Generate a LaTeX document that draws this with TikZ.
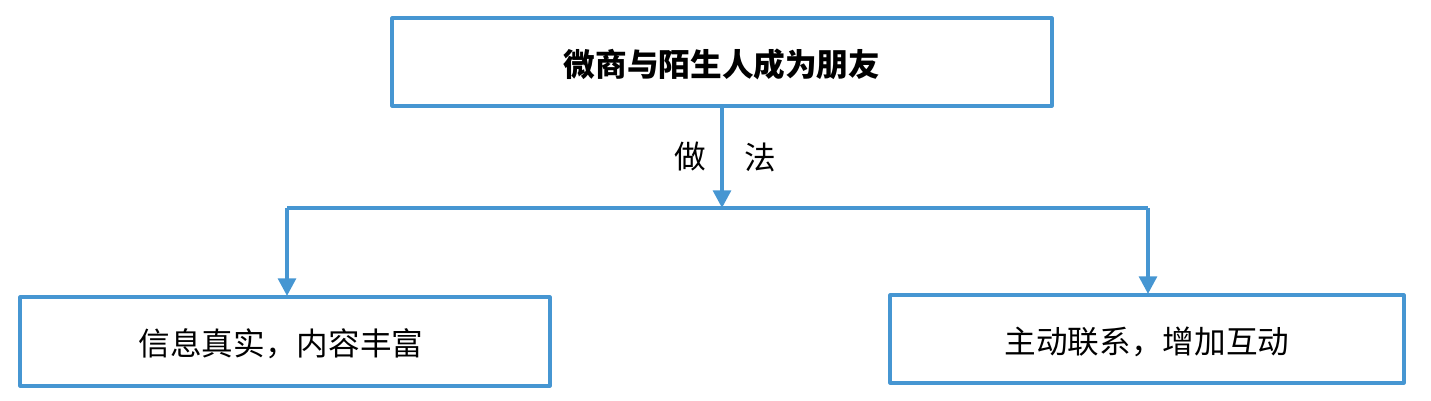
\documentclass[tikz,border=0pt]{standalone}
\usepackage{fontspec}
\newfontfamily\cjk{Noto Sans CJK SC}
\usetikzlibrary{arrows.meta}
\definecolor{lineblue}{RGB}{70,150,210}
\begin{document}
\begin{tikzpicture}[x=0.02cm,y=-0.02cm,join=round,
  box/.style={draw=lineblue,line width=1.8pt},
  link/.style={draw=lineblue,line width=2.2pt},
  tip/.style={-{Triangle[length=10pt,width=10pt]}}]
\useasboundingbox (0,0) rectangle (1431,401);
% boxes
\draw[box] (392,18) rectangle (1052,106);
\draw[box] (20,297) rectangle (550,386);
\draw[box] (890,295) rectangle (1404,383);
\node (top) at (722,64) {\cjk\fontsize{18}{20}\selectfont\bfseries 微商与陌生人成为朋友};
\node (left) at (281,344) {\cjk\fontsize{18}{20}\selectfont 信息真实，内容丰富};
\node (right) at (1147,342) {\cjk\fontsize{18}{20}\selectfont 主动联系，增加互动};
\node (zuo) at (690,157) {\cjk\fontsize{18}{20}\selectfont 做};
\node (fa) at (760,157) {\cjk\fontsize{18}{20}\selectfont 法};
% connectors
\coordinate (mid) at (722,208);
\coordinate (ml) at (287,208);
\coordinate (mr) at (1148,208);
\draw[link,tip] (722,106) -- (mid);
\draw[link] (ml) -- (mr);
\draw[link,tip] (ml) -- (287,296);
\draw[link,tip] (mr) -- (1148,294);
\end{tikzpicture}
\end{document}
